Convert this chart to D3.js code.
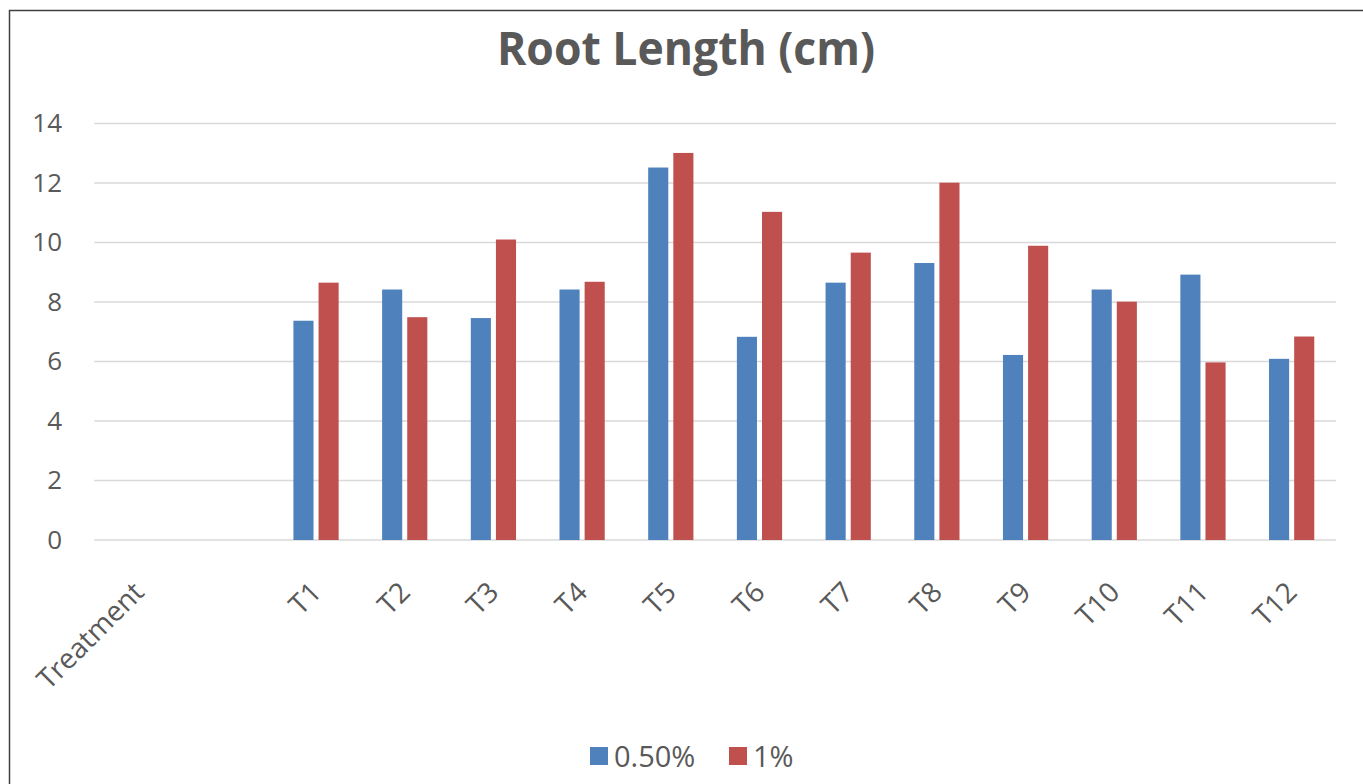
<!DOCTYPE html>
<html>
<head>
<meta charset="utf-8">
<script src="https://cdn.jsdelivr.net/npm/d3@7"></script>
<style>
  html, body { margin: 0; padding: 0; background: #fff; }
  svg { display: block; }
  text { font-family: "Open Sans", "Noto Sans", sans-serif; fill: #595959; }
</style>
</head>
<body>
<svg id="chart" width="1363" height="784"></svg>
<script>
// ---- data ----
const categories = ["Treatment", "", "T1", "T2", "T3", "T4", "T5", "T6", "T7", "T8", "T9", "T10", "T11", "T12"];
const seriesNames = ["0.50%", "1%"];
const values050 = [null, null, 7.37, 8.42, 7.46, 8.42, 12.52, 6.83, 8.65, 9.31, 6.22, 8.42, 8.92, 6.09];
const values1 = [null, null, 8.65, 7.49, 10.10, 8.68, 13.01, 11.03, 9.66, 12.01, 9.89, 8.01, 5.97, 6.84];
const yTicks = [0, 2, 4, 6, 8, 10, 12, 14];
const colors = ["#4F81BD", "#C0504D"];
const title = "Root Length (cm)";

const svg = d3.select("#chart");
const W = 1363, H = 784;

// chart border
svg.append("rect")
  .attr("x", 9.5).attr("y", 10.5)
  .attr("width", W + 10).attr("height", H + 10)
  .attr("fill", "none").attr("stroke", "#404040").attr("stroke-width", 1.5);

const plot = { left: 94.3, right: 1336, top: 123.5, bottom: 540 };

const x0 = d3.scaleBand().domain(d3.range(categories.length))
  .range([plot.left, plot.right]).paddingInner(0.49).paddingOuter(0.245);
const x1 = d3.scaleBand().domain(seriesNames)
  .range([0, x0.bandwidth()]).paddingInner(0.2);
const y = d3.scaleLinear().domain([0, 14]).range([plot.bottom, plot.top]);

// gridlines
svg.append("g").selectAll("line").data(yTicks).join("line")
  .attr("x1", plot.left).attr("x2", plot.right)
  .attr("y1", d => y(d)).attr("y2", d => y(d))
  .attr("stroke", "#d9d9d9").attr("stroke-width", 1.5);

// y axis labels
const yAxis = d3.axisLeft(y).tickValues(yTicks).tickSize(0).tickPadding(0);
const gy = svg.append("g").attr("transform", `translate(62,0)`).call(yAxis);
gy.select(".domain").remove();
gy.selectAll("text").attr("font-size", 26).attr("fill", "#595959")
  .attr("font-family", "'Open Sans', sans-serif");

// bars
const series = [values050, values1];
series.forEach((vals, si) => {
  svg.append("g").selectAll("rect")
    .data(vals.map((v, i) => ({ v, i })).filter(d => d.v !== null))
    .join("rect")
    .attr("x", d => x0(d.i) + x1(seriesNames[si]))
    .attr("width", x1.bandwidth())
    .attr("y", d => y(d.v))
    .attr("height", d => y(0) - y(d.v))
    .attr("fill", colors[si]);
});

// x axis labels
const xAxis = d3.axisBottom(x0).tickFormat(i => categories[i]).tickSize(0).tickPadding(0);
const gx = svg.append("g").attr("transform", `translate(0,${plot.bottom})`).call(xAxis);
gx.select(".domain").remove();
gx.selectAll("text")
  .attr("font-size", 28).attr("fill", "#595959")
  .attr("font-family", "'Open Sans', sans-serif")
  .attr("text-anchor", "end")
  .attr("dy", null).attr("y", 0)
  .attr("transform", "translate(7,54) rotate(-45)");

// title
svg.append("text")
  .attr("x", 686).attr("y", 65)
  .attr("text-anchor", "middle")
  .attr("font-size", 46).attr("font-weight", "bold")
  .attr("font-family", "'Open Sans', sans-serif")
  .attr("fill", "#595959")
  .attr("textLength", 378).attr("lengthAdjust", "spacingAndGlyphs")
  .text(title);

// legend
const legendItems = [
  { name: seriesNames[0], color: colors[0], x: 590 },
  { name: seriesNames[1], color: colors[1], x: 729 }
];
const lg = svg.append("g");
legendItems.forEach(it => {
  lg.append("rect").attr("x", it.x).attr("y", 747).attr("width", 18).attr("height", 18).attr("fill", it.color);
  lg.append("text").attr("x", it.x + 24).attr("y", 767)
    .attr("font-size", 29).attr("fill", "#595959")
    .attr("font-family", "'Open Sans', sans-serif")
    .text(it.name);
});
</script>
</body>
</html>
